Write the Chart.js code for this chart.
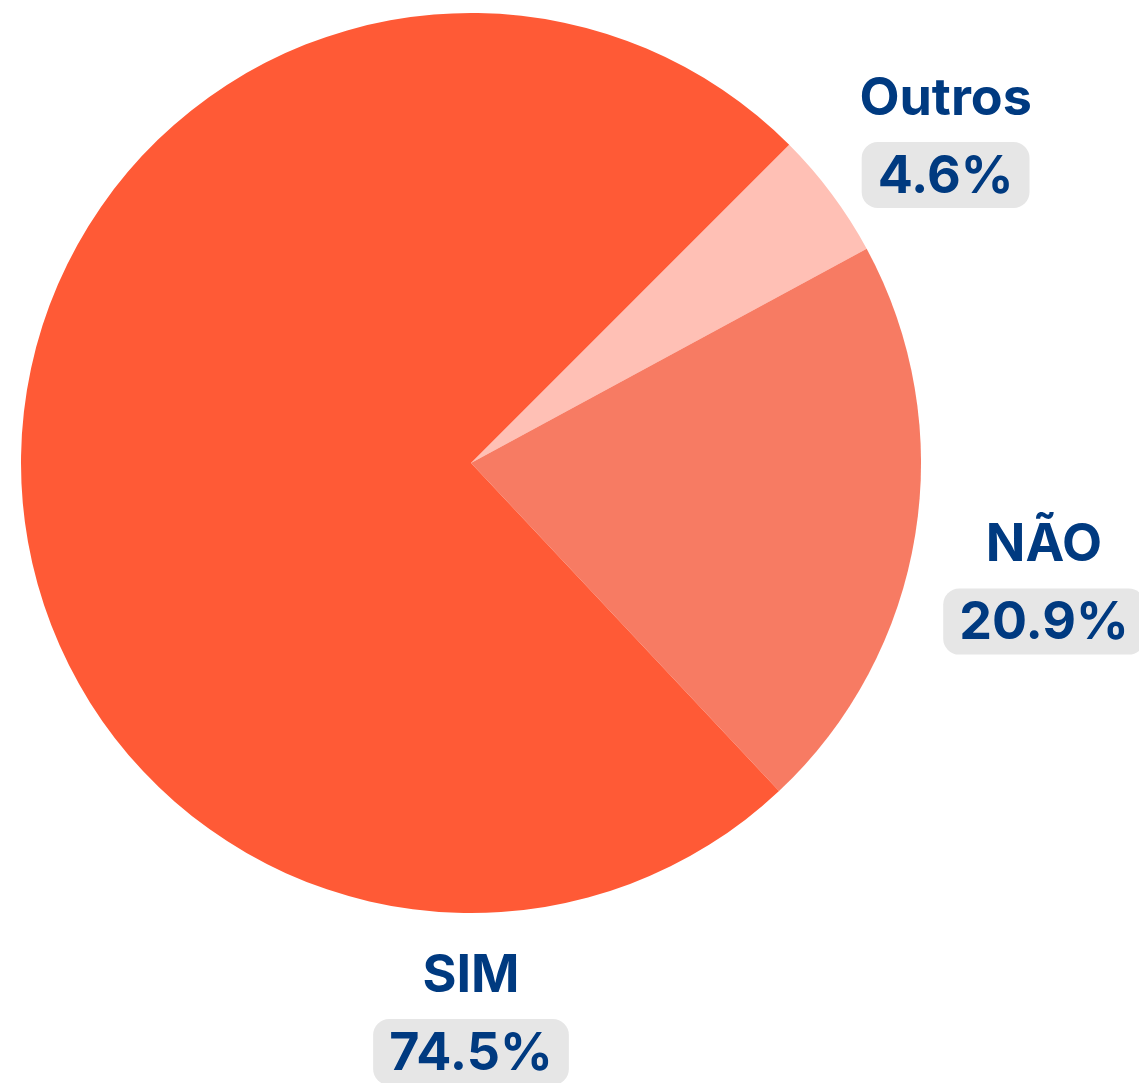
<!DOCTYPE html>
<html>
<head>
<meta charset="utf-8">
<script src="https://cdn.jsdelivr.net/npm/chart.js@4"></script>
<style>
  html, body { margin: 0; padding: 0; background: #fff; }
  #wrap { width: 1139px; height: 1083px; }
</style>
</head>
<body>
<div id="wrap"><canvas id="pieChart"></canvas></div>
<script>
// chart data
const categories = ['Outros', 'NÃO', 'SIM'];
const shares = [4.6, 20.9, 74.5];
const sliceColors = ['#FFC0B5', '#F77B63', '#FF5A36'];

const TEXT_COLOR = '#003A80';
const BOX_COLOR = '#E6E6E6';
const FONT = 'bold 52px Inter, "Liberation Sans", sans-serif';

const roundRect = (ctx, x, y, w, h, r) => {
    ctx.beginPath();
    ctx.moveTo(x + r, y);
    ctx.arcTo(x + w, y, x + w, y + h, r);
    ctx.arcTo(x + w, y + h, x, y + h, r);
    ctx.arcTo(x, y + h, x, y, r);
    ctx.arcTo(x, y, x + w, y, r);
    ctx.closePath();
};

// draws name + percentage pill outside each slice
const outsideLabels = {
    id: 'outsideLabels',
    afterDatasetsDraw(chart) {
        const ctx = chart.ctx;
        const meta = chart.getDatasetMeta(0);
        ctx.save();
        ctx.font = FONT;
        ctx.textAlign = 'center';
        ctx.textBaseline = 'middle';
        meta.data.forEach((arc, i) => {
            const { x, y, startAngle, endAngle, outerRadius } = arc.getProps(['x', 'y', 'startAngle', 'endAngle', 'outerRadius'], true);
            // the dominant slice gets its label under the pie
            let angle = (startAngle + endAngle) / 2;
            if (endAngle - startAngle > Math.PI) angle = Math.PI / 2;

            const name = categories[i];
            const pct = shares[i].toFixed(1) + '%';
            const nameW = ctx.measureText(name).width;
            const boxW = ctx.measureText(pct).width + 32;
            const boxH = 66;

            // name sits near the slice's ray, box hangs below it
            const cos = Math.cos(angle), sin = Math.sin(angle);
            const dist = outerRadius + 73 + nameW / 2 * Math.abs(cos);
            const nx = x + cos * dist;
            const ny = y + sin * dist - 12;

            ctx.fillStyle = TEXT_COLOR;
            ctx.fillText(name, nx, ny + 2);

            const boxTop = ny + 45;
            ctx.fillStyle = BOX_COLOR;
            roundRect(ctx, nx - boxW / 2, boxTop, boxW, boxH, 16);
            ctx.fill();
            ctx.fillStyle = TEXT_COLOR;
            ctx.fillText(pct, nx, boxTop + boxH / 2 + 2);
        });
        ctx.restore();
    }
};

new Chart(document.getElementById('pieChart').getContext('2d'), {
    type: 'pie',
    data: {
        labels: categories,
        datasets: [{
            data: shares,
            backgroundColor: sliceColors,
            borderWidth: 0
        }]
    },
    options: {
        responsive: true,
        maintainAspectRatio: false,
        animation: false,
        rotation: 45,
        layout: { padding: { left: 21, right: 218, top: 13, bottom: 170 } },
        plugins: {
            legend: { display: false },
            tooltip: { enabled: false }
        }
    },
    plugins: [outsideLabels]
});
</script>
</body>
</html>
